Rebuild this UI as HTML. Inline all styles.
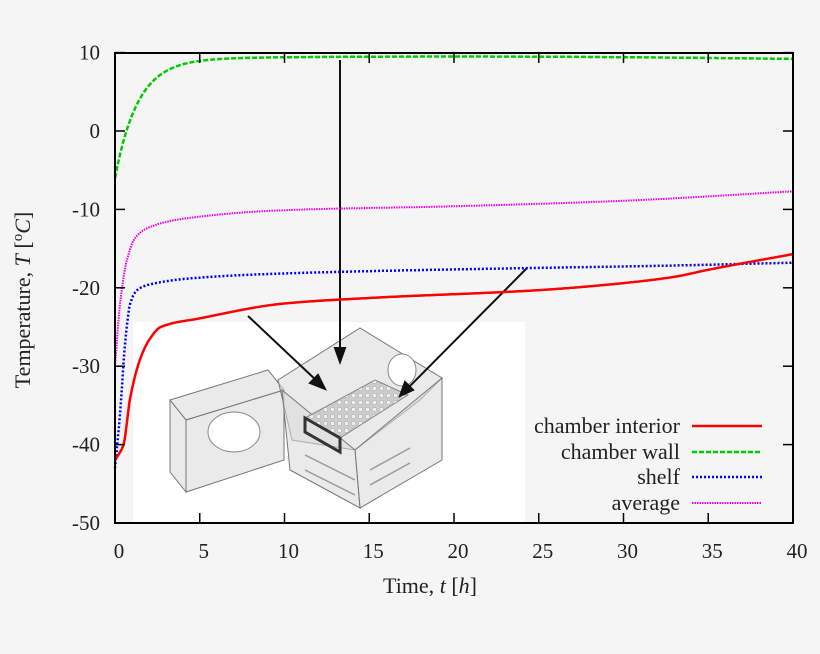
<!DOCTYPE html>
<html><head><meta charset="utf-8"><style>
body{margin:0;background:#f5f5f5}
svg{display:block;font-family:"Liberation Serif",serif}
</style></head><body>
<svg id="s" width="820" height="654" viewBox="0 0 820 654" xmlns="http://www.w3.org/2000/svg">
<defs>
<pattern id="dots" width="7" height="7" patternUnits="userSpaceOnUse"><rect width="7" height="7" fill="#ccc"/><circle cx="3.5" cy="3.5" r="2.3" fill="#eee" stroke="#999" stroke-width="0.5"/></pattern>
</defs>
<rect width="820" height="654" fill="#f5f5f5"/>
<rect x="133" y="322" width="392" height="201" fill="#fff"/>
<g stroke="#777" stroke-width="1" fill="#d8d8d8" fill-opacity="0.55">
<polygon points="170,400 268,370 284,390 186,420"/>
<polygon points="186,420 284,390 284,460 186,492"/>
<polygon points="170,400 186,420 186,492 170,472"/>
<polygon points="278,380 360,328 442,378 420,400 355,450 292,440"/>
<polygon points="355,450 442,378 442,460 360,508"/>
<polygon points="282,390 355,450 360,508 290,470"/>
</g>
<ellipse cx="234" cy="432" rx="26" ry="20" fill="#fff" stroke="#888"/>
<ellipse cx="402" cy="370" rx="14" ry="16" fill="#fff" stroke="#888"/>
<polygon points="305,418 375,380 408,395 340,438" fill="url(#dots)" stroke="#888"/>
<g fill="none" stroke="#333" stroke-width="3"><polygon points="305,418 340,438 340,452 305,432"/></g>
<g stroke="#999" stroke-width="1.5" fill="none"><path d="M305,455 L355,480 M305,470 L355,495 M370,470 L410,448 M370,485 L410,463"/></g>
<g stroke="#111" stroke-width="2" fill="#111">
<line x1="248" y1="316" x2="318" y2="382"/><polygon points="325,389 310,383 318,375"/>
<line x1="340" y1="60" x2="340" y2="350"/><polygon points="340,362 335,348 345,348"/>
<line x1="527" y1="268" x2="408" y2="388"/><polygon points="400,396 405,382 413,390"/>
</g>
<g id="curves"></g>
<rect x="115" y="53" width="678" height="470" fill="none" stroke="#000" stroke-width="2"/>
<g id="ticks" stroke="#000" stroke-width="1.5"></g>
<g font-size="21" fill="#222" id="labels"></g>
<text x="430" y="593" font-size="22" text-anchor="middle" fill="#222">Time, <tspan font-style="italic">t</tspan> [<tspan font-style="italic">h</tspan>]</text>
<text transform="translate(30,300) rotate(-90)" font-size="22" text-anchor="middle" fill="#222">Temperature, <tspan font-style="italic">T</tspan> [<tspan baseline-shift="super" font-size="15">o</tspan><tspan font-style="italic">C</tspan>]</text>
<g font-size="22" fill="#222" text-anchor="end">
<text x="680" y="433">chamber interior</text>
<text x="680" y="459">chamber wall</text>
<text x="680" y="484">shelf</text>
<text x="680" y="510">average</text>
</g>
<line x1="692" y1="426" x2="762" y2="426" stroke="#f00" stroke-width="2.5"/>
<line x1="692" y1="452" x2="762" y2="452" stroke="#0c0" stroke-width="2.5" stroke-dasharray="5,2"/>
<line x1="692" y1="477" x2="762" y2="477" stroke="#00f" stroke-width="2.5" stroke-dasharray="2,2"/>
<line x1="692" y1="503" x2="762" y2="503" stroke="#e0e" stroke-width="2" stroke-dasharray="1.5,1"/>
</svg>
<script>
var X=t=>115+16.95*t, Y=v=>131-7.84*v;
var NS="http://www.w3.org/2000/svg";
function mono(P){var n=P.length,d=[],m=[];for(var i=0;i<n-1;i++)d.push((P[i+1][1]-P[i][1])/(P[i+1][0]-P[i][0]));
m[0]=d[0];m[n-1]=d[n-2];for(i=1;i<n-1;i++){m[i]=(d[i-1]*d[i]<=0)?0:3*(P[i+1][0]-P[i-1][0])/((2*P[i+1][0]-P[i][0]-P[i-1][0])/d[i-1]+(P[i+1][0]+P[i][0]-2*P[i-1][0])/d[i]);}
return function(t){for(var i=1;i<n;i++){if(t<=P[i][0]||i==n-1){var h=P[i][0]-P[i-1][0],s=(t-P[i-1][0])/h,s2=s*s,s3=s2*s;
return (2*s3-3*s2+1)*P[i-1][1]+(s3-2*s2+s)*h*m[i-1]+(-2*s3+3*s2)*P[i][1]+(s3-s2)*h*m[i];}}};}
function curve(f,col,w,dash){var d="";for(var t=0;t<=40.001;t+=0.04){d+=(d?"L":"M")+X(t).toFixed(1)+","+Y(f(t)).toFixed(1);}
var p=document.createElementNS(NS,"path");p.setAttribute("d",d);p.setAttribute("fill","none");p.setAttribute("stroke",col);p.setAttribute("stroke-width",w);if(dash)p.setAttribute("stroke-dasharray",dash);document.getElementById("curves").appendChild(p);}
curve(t=>9.2+(-6-9.2)*Math.exp(-t/1.35)+0.3*Math.sin(Math.PI*t/40),"#0c0",2.5,"5,2");
curve(mono([[0,-30],[0.3,-22],[0.7,-16.5],[1.2,-13.6],[2,-12.3],[4,-11.2],[10,-10.1],[20,-9.6],[30,-8.9],[40,-7.7]]),"#e0e",2,"1.5,1");
curve(mono([[0,-43],[0.3,-36],[0.6,-27],[0.9,-22],[1.3,-20.3],[2,-19.6],[5,-18.7],[11,-18.1],[24,-17.5],[32,-17.2],[40,-16.8]]),"#00f",2.5,"2,2");
curve(mono([[0,-42],[0.5,-40],[0.9,-34],[1.5,-29],[2,-26.7],[2.7,-25],[5,-23.9],[10,-22],[15,-21.3],[25,-20.3],[30,-19.4],[33,-18.6],[35,-17.7],[40,-15.7]]),"#f00",2.5);
var g=document.getElementById("ticks"),L=document.getElementById("labels");
for(var v=-50;v<=10;v+=10){var y=Y(v);g.innerHTML+='<line x1="115" y1="'+y+'" x2="125" y2="'+y+'"/><line x1="783" y1="'+y+'" x2="793" y2="'+y+'"/>';
L.innerHTML+='<text x="100" y="'+(y+7)+'" text-anchor="end">'+v+'</text>';}
for(var t=0;t<=40;t+=5){var x=X(t);g.innerHTML+='<line x1="'+x+'" y1="523" x2="'+x+'" y2="513"/><line x1="'+x+'" y1="53" x2="'+x+'" y2="63"/>';
L.innerHTML+='<text x="'+(x+4)+'" y="558" text-anchor="middle">'+t+'</text>';}
</script>
</body></html>
